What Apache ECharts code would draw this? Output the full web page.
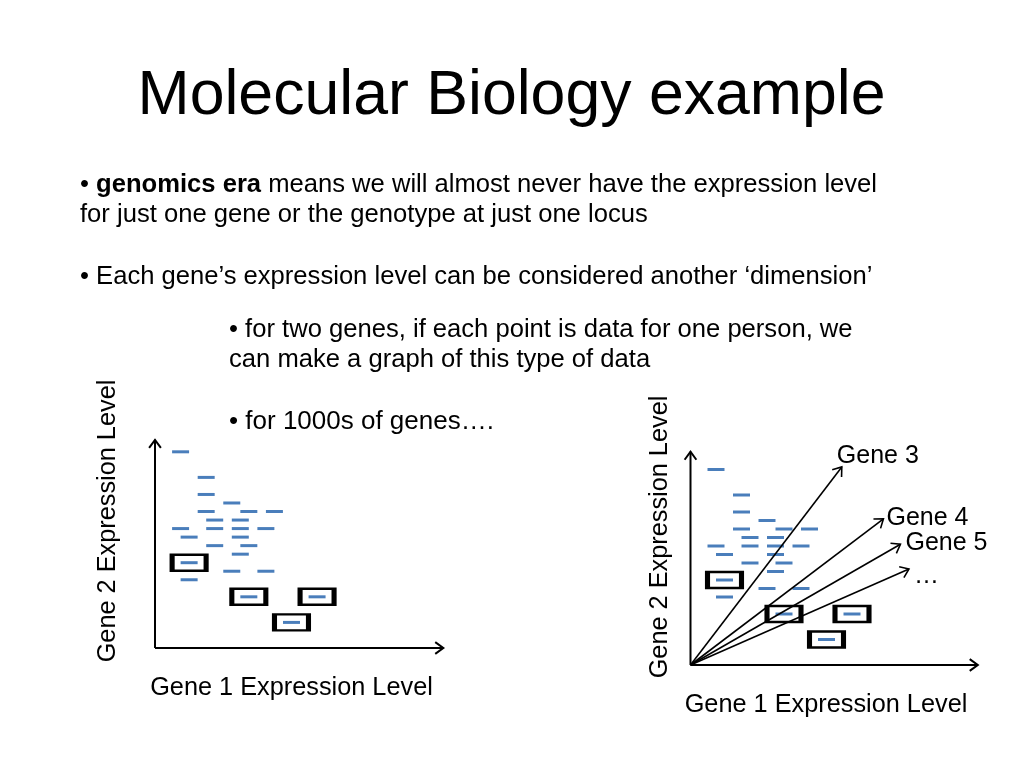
<!DOCTYPE html>
<html>
<head>
<meta charset="utf-8">
<script src="https://cdn.jsdelivr.net/npm/echarts@6/dist/echarts.min.js"></script>
<style>
html,body{margin:0;padding:0;background:#fff;}
#chart{width:1024px;height:768px;}
</style>
</head>
<body>
<div id="chart"></div>
<script>
// ---- data (grid units) ----
var dashPoints = [
  [3,23],[6,20],[6,18],[9,17],
  [6,16],[11,16],[14,16],
  [7,15],[10,15],
  [3,14],[7,14],[10,14],[13,14],
  [4,13],[10,13],
  [7,12],[11,12],
  [10,11],
  [4,10],
  [9,9],[13,9],
  [4,8],
  [11,6],[19,6],
  [16,3]
];
var boxedPoints = [[4,10],[11,6],[19,6],[16,3]];
var leftAxes = [[0,0,33.8,0],[0,0,0,24.4]];
var rightAxes = [[0,0,33.8,0],[0,0,0,25.1]];
var geneVectors = [[0,0,17.8,23.3],[0,0,22.7,17.2],[0,0,24.7,14.2],[0,0,25.7,11.3]];
var geneLabels = ['Gene 3','Gene 4','Gene 5','…'];
var titleText = 'Molecular Biology example';
var xAxisLabel = 'Gene 1 Expression Level';
var yAxisLabel = 'Gene 2 Expression Level';

var FONT = 'Liberation Sans, Arial, sans-serif';
var BLUE = '#4a7ebb';

var chart = echarts.init(document.getElementById('chart'), null, {renderer:'canvas'});

var labelOffsets = [[-5,-11],[3,-1],[5,-1],[5,7]];

function arrowItem(lineWidth, withLabels){
  return function(params, api){
    var p0 = api.coord([api.value(0), api.value(1)]);
    var p1 = api.coord([api.value(2), api.value(3)]);
    var ang = Math.atan2(p1[1]-p0[1], p1[0]-p0[0]);
    var L = 10, a = Math.PI/5;
    var h1 = [p1[0]-L*Math.cos(ang-a), p1[1]-L*Math.sin(ang-a)];
    var h2 = [p1[0]-L*Math.cos(ang+a), p1[1]-L*Math.sin(ang+a)];
    var children = [
      {type:'line', shape:{x1:p0[0],y1:p0[1],x2:p1[0],y2:p1[1]}, style:{stroke:'#000',lineWidth:lineWidth}},
      {type:'polyline', shape:{points:[h1,p1,h2]}, style:{stroke:'#000',fill:null,lineWidth:lineWidth,lineJoin:'miter'}}
    ];
    if (withLabels){
      var off = labelOffsets[params.dataIndex];
      children.push({type:'text', x:p1[0]+off[0], y:p1[1]+off[1],
        style:{text:geneLabels[params.dataIndex], font:'25px '+FONT, fill:'#000', textAlign:'left', textVerticalAlign:'middle'}});
    }
    return {type:'group', children:children};
  };
}

var U = 8.53;
var U2 = 8.5;
var BODY = '25.6px ' + FONT;
var AX = '25.3px ' + FONT;
var dashStyle = {color:BLUE, opacity:1};
var boxStyle = {color:'rgba(0,0,0,0)', borderColor:'#000', borderWidth:3.5, opacity:1};
var option = {
  animation:false,
  backgroundColor:'#fff',
  grid:[
    {left:155, top:648-25*U, width:34*U, height:25*U},
    {left:690.5, top:665-26*U2, width:34*U2, height:26*U2}
  ],
  xAxis:[
    {gridIndex:0, type:'value', min:0, max:34, show:false},
    {gridIndex:1, type:'value', min:0, max:34, show:false}
  ],
  yAxis:[
    {gridIndex:0, type:'value', min:0, max:25, show:false},
    {gridIndex:1, type:'value', min:0, max:26, show:false}
  ],
  series:[
    {type:'custom', xAxisIndex:0, yAxisIndex:0, data:leftAxes, renderItem:arrowItem(2,false), encode:{x:[0,2],y:[1,3]}, z:1},
    {type:'custom', xAxisIndex:1, yAxisIndex:1, data:rightAxes, renderItem:arrowItem(2,false), encode:{x:[0,2],y:[1,3]}, z:1},
    {type:'custom', xAxisIndex:1, yAxisIndex:1, data:geneVectors, renderItem:arrowItem(1.6,true), encode:{x:[0,2],y:[1,3]}, z:3},
    {type:'scatter', xAxisIndex:0, yAxisIndex:0, data:dashPoints, symbol:'rect', symbolSize:[17,3], itemStyle:dashStyle, z:2},
    {type:'scatter', xAxisIndex:1, yAxisIndex:1, data:dashPoints, symbol:'rect', symbolSize:[17,3], itemStyle:dashStyle, z:2},
    {type:'scatter', xAxisIndex:0, yAxisIndex:0, data:boxedPoints, symbol:'rect', symbolSize:[34,16], itemStyle:boxStyle, z:2},
    {type:'scatter', xAxisIndex:1, yAxisIndex:1, data:boxedPoints, symbol:'rect', symbolSize:[34,16], itemStyle:boxStyle, z:2}
  ],
  graphic:[
    {type:'text', x:511.5, y:97, style:{text:titleText, font:'62.6px '+FONT, fill:'#000', textAlign:'center', textVerticalAlign:'middle'}},
    {type:'text', x:80, y:185, style:{
      text:'• {b|genomics era} means we will almost never have the expression level',
      font:BODY, fill:'#000', textVerticalAlign:'middle',
      rich:{b:{fontWeight:'bold', fontSize:25.6, fontFamily:FONT, fill:'#000'}}}},
    {type:'text', x:80, y:215, style:{text:'for just one gene or the genotype at just one locus', font:BODY, fill:'#000', textVerticalAlign:'middle'}},
    {type:'text', x:80, y:277, style:{text:'• Each gene’s expression level can be considered another ‘dimension’', font:BODY, fill:'#000', textVerticalAlign:'middle'}},
    {type:'text', x:229, y:330, style:{text:'• for two genes, if each point is data for one person, we', font:BODY, fill:'#000', textVerticalAlign:'middle'}},
    {type:'text', x:229, y:360, style:{text:'can make a graph of this type of data', font:BODY, fill:'#000', textVerticalAlign:'middle'}},
    {type:'text', x:229, y:422, style:{text:'• for 1000s of genes….', font:'26px '+FONT, fill:'#000', textVerticalAlign:'middle'}},
    {type:'text', x:291.5, y:688, style:{text:xAxisLabel, font:AX, fill:'#000', textAlign:'center', textVerticalAlign:'middle'}},
    {type:'text', x:826, y:705, style:{text:xAxisLabel, font:AX, fill:'#000', textAlign:'center', textVerticalAlign:'middle'}},
    {type:'text', x:108, y:521, rotation:Math.PI/2, style:{text:yAxisLabel, font:AX, fill:'#000', textAlign:'center', textVerticalAlign:'middle'}},
    {type:'text', x:660, y:537, rotation:Math.PI/2, style:{text:yAxisLabel, font:AX, fill:'#000', textAlign:'center', textVerticalAlign:'middle'}}
  ]
};
chart.setOption(option);
</script>
</body>
</html>
